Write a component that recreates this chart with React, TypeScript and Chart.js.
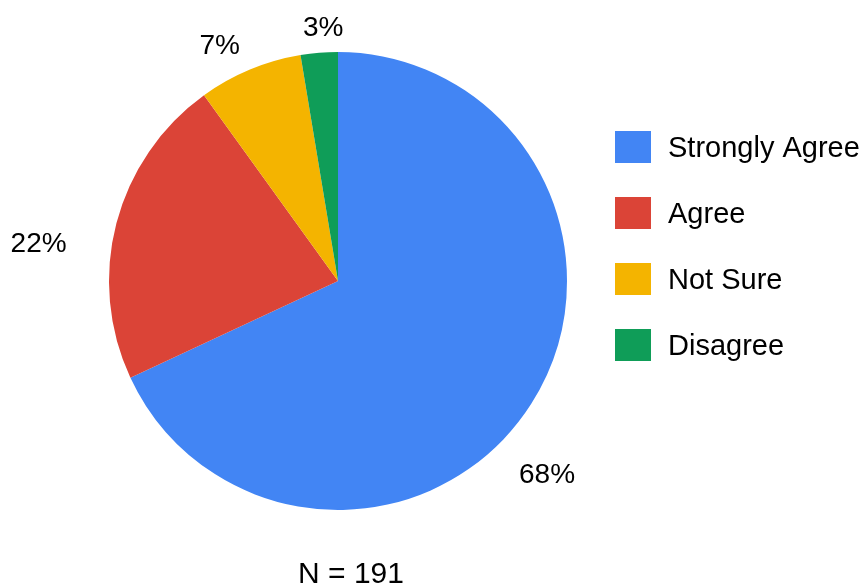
import React, { useEffect, useRef } from "react";
import { Chart, registerables } from "chart.js";

Chart.register(...registerables);

const categories = ["Strongly Agree", "Agree", "Not Sure", "Disagree"];
const counts = [130, 42, 14, 5];
const colors = ["#4285F4", "#DB4437", "#F4B400", "#0F9D58"];

// label placement tweaks (degrees off the slice middle, px beyond the rim)
const labelAngleShift = [10.1, -7.1, -3.9, 1.4];
const labelGap = [55, 73, 36, 26];

const FONT = '"Liberation Sans", Arial, sans-serif';
const CAP = 0.716;

const overlayPlugin = {
  id: "overlay",
  afterDraw(chart: any) {
    const ctx = chart.ctx as CanvasRenderingContext2D;
    const meta = chart.getDatasetMeta(0);
    const data = chart.data.datasets[0].data as number[];
    const total = data.reduce((a, b) => a + b, 0);
    ctx.save();
    ctx.fillStyle = "#000";
    // percent labels
    const ls = 28;
    ctx.font = `${ls}px ${FONT}`;
    ctx.textAlign = "center";
    ctx.textBaseline = "alphabetic";
    meta.data.forEach((arc: any, i: number) => {
      const p = arc.getProps(["x", "y", "startAngle", "endAngle", "outerRadius"], true);
      const mid = (p.startAngle + p.endAngle) / 2 + (labelAngleShift[i] * Math.PI) / 180;
      const d = p.outerRadius + labelGap[i];
      const cx = p.x + Math.cos(mid) * d;
      const cy = p.y + Math.sin(mid) * d;
      const pct = Math.round((data[i] / total) * 100) + "%";
      ctx.fillText(pct, cx, cy + (CAP * ls) / 2);
    });
    // legend
    const fs = 29;
    ctx.font = `${fs}px ${FONT}`;
    ctx.textAlign = "left";
    const labels = chart.data.labels as string[];
    labels.forEach((lab, i) => {
      const top = 131 + i * 66;
      ctx.fillStyle = colors[i];
      ctx.fillRect(615, top, 36, 32);
      ctx.fillStyle = "#000";
      ctx.fillText(lab, 668, top + 16 + (CAP * fs) / 2);
    });
    // N
    const ns = 30;
    ctx.font = `${ns}px ${FONT}`;
    ctx.textAlign = "center";
    ctx.fillText(`N = ${total}`, 351, 583);
    ctx.restore();
  },
};

export default function App() {
  const ref = useRef<HTMLCanvasElement | null>(null);
  useEffect(() => {
    if (!ref.current) return;
    const chart = new Chart(ref.current, {
      type: "pie",
      data: {
        labels: categories,
        datasets: [
          {
            data: counts,
            backgroundColor: colors,
            borderWidth: 0,
          },
        ],
      },
      options: {
        responsive: false,
        animation: false,
        devicePixelRatio: 1,
        layout: { padding: { left: 109, right: 299, top: 52, bottom: 78 } },
        plugins: {
          legend: { display: false },
          tooltip: { enabled: false },
          title: { display: false },
        },
      },
      plugins: [overlayPlugin],
    });
    return () => chart.destroy();
  }, []);
  return (
    <div style={{ position: "absolute", left: 0, top: 0, width: 866, height: 588, background: "#fff" }}>
      <canvas ref={ref} width={866} height={588} style={{ width: 866, height: 588, display: "block" }} />
    </div>
  );
}
